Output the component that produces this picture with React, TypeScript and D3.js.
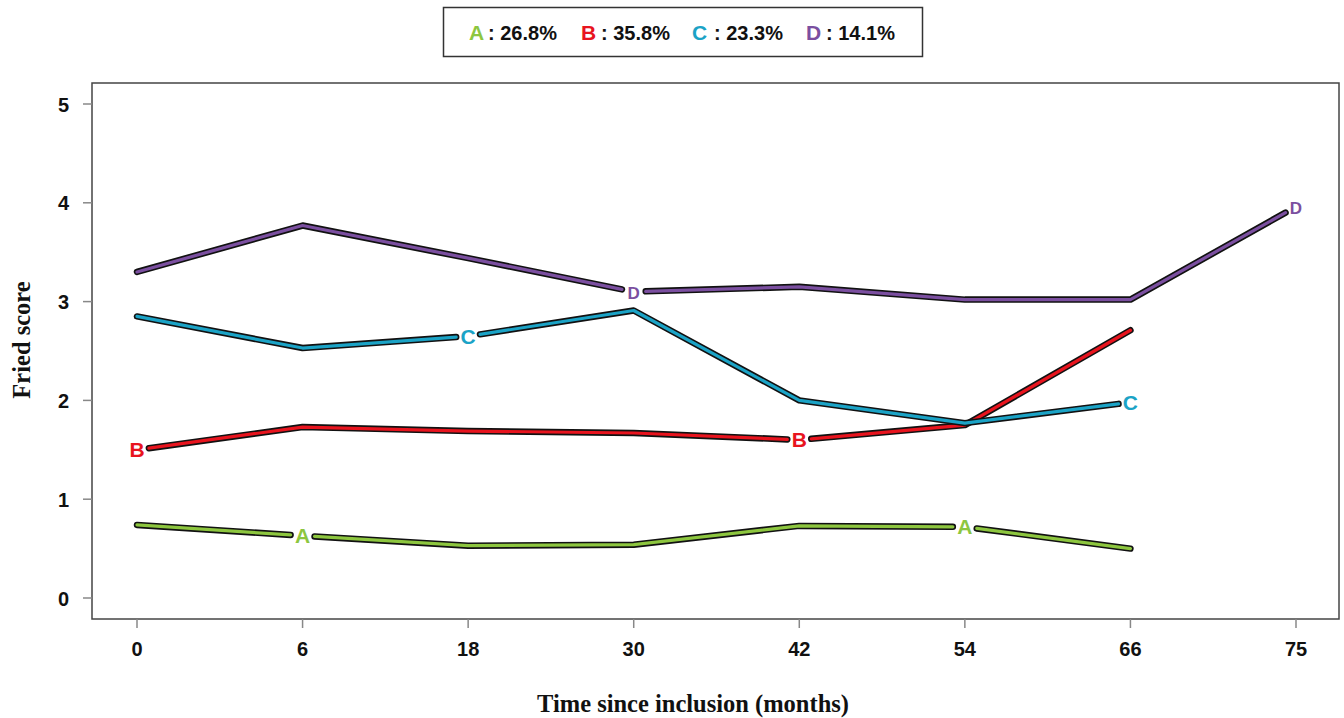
import React from "react";
import * as d3 from "d3";

const months = ["0", "6", "18", "30", "42", "54", "66", "75"];
const yTicks = [0, 1, 2, 3, 4, 5];

const seriesA = [0.74, 0.63, 0.53, 0.54, 0.73, 0.72, 0.5];
const seriesB = [1.5, 1.73, 1.69, 1.67, 1.6, 1.75, 2.71];
const seriesC = [2.85, 2.53, 2.65, 2.91, 2.0, 1.77, 1.98];
const seriesD = [3.3, 3.77, 3.44, 3.1, 3.15, 3.02, 3.02, 3.96];

const seriesNames = ["A", "B", "C", "D"];
const seriesShares = ["26.8%", "35.8%", "23.3%", "14.1%"];
const seriesColors = ["#8DC63F", "#E8141E", "#1BA3C6", "#7B4FA0"];
// indices of points carrying a letter label
const labelIdx = [[1, 5], [0, 4], [2, 6], [3, 7]];

const W = 1344;
const H = 718;
const box = { left: 92, right: 1339, top: 83, bottom: 619 };

export default function App() {
  const x = d3.scalePoint<string>().domain(months).range([137, 1296]).padding(0);
  const y = d3.scaleLinear().domain([0, 5]).range([598, 104]);
  const allSeries = [seriesA, seriesB, seriesC, seriesD];
  const gap = 12;

  const segments = allSeries.map((vals, si) => {
    const pts = vals.map((v, i) => [x(months[i]) as number, y(v)] as [number, number]);
    const segs: [number, number][][] = [];
    for (let i = 0; i < pts.length - 1; i++) {
      let [x0, y0] = pts[i];
      let [x1, y1] = pts[i + 1];
      const dx = x1 - x0, dy = y1 - y0;
      const len = Math.hypot(dx, dy);
      const ux = dx / len, uy = dy / len;
      if (labelIdx[si].includes(i)) { x0 += ux * gap; y0 += uy * gap; }
      if (labelIdx[si].includes(i + 1)) { x1 -= ux * gap; y1 -= uy * gap; }
      segs.push([[x0, y0], [x1, y1]]);
    }
    return { pts, segs };
  });

  const line = d3.line();
  const sans = "'Liberation Sans', Arial, Helvetica, sans-serif";
  const serif = "'Liberation Serif', 'Times New Roman', serif";

  const polylines = segments.map(({ segs }, si) => {
    const out: [number, number][][] = [];
    let cur: [number, number][] = [];
    segs.forEach((s, i) => {
      const startsFresh = labelIdx[si].includes(i);
      if (cur.length === 0 || startsFresh) {
        if (cur.length) out.push(cur);
        cur = [s[0], s[1]];
      } else {
        cur.push(s[1]);
      }
      if (labelIdx[si].includes(i + 1)) {
        out.push(cur);
        cur = [];
      }
    });
    if (cur.length) out.push(cur);
    return out;
  });

  const legendItems = [
    { x: 469, tx: 488 },
    { x: 581, tx: 601 },
    { x: 692, tx: 714 },
    { x: 806, tx: 826 },
  ];

  return (
    <svg width={W} height={H} style={{ position: "absolute", left: 0, top: 0, background: "#fff" }}>
      <rect x={0} y={0} width={W} height={H} fill="#fff" />
      {/* legend */}
      <rect x={443.5} y={7.5} width={479} height={49} fill="#fff" stroke="#333" strokeWidth={1.5} />
      {seriesNames.map((n, i) => (
        <g key={n} fontFamily={sans} fontWeight="bold" fontSize={20}>
          <text x={legendItems[i].x} y={40} fill={seriesColors[i]} fontSize={21}>{n}</text>
          <text x={legendItems[i].tx} y={40} fill="#111">{": " + seriesShares[i]}</text>
        </g>
      ))}
      {/* plot box */}
      <rect x={box.left} y={box.top} width={box.right - box.left} height={box.bottom - box.top} fill="none" stroke="#444" strokeWidth={1.5} />
      {/* y axis ticks */}
      {yTicks.map((t) => (
        <g key={t}>
          <line x1={83} x2={box.left} y1={y(t)} y2={y(t)} stroke="#888" strokeWidth={1.5} />
          <text x={69} y={y(t) + 7.5} textAnchor="end" fontFamily={sans} fontWeight="bold" fontSize={20} fill="#111">{t}</text>
        </g>
      ))}
      {/* x axis ticks */}
      {months.map((m) => (
        <g key={m}>
          <line x1={x(m)} x2={x(m)} y1={box.bottom} y2={box.bottom + 9} stroke="#888" strokeWidth={1.5} />
          <text x={x(m)} y={656} textAnchor="middle" fontFamily={sans} fontWeight="bold" fontSize={20} fill="#111">{m}</text>
        </g>
      ))}
      {/* axis titles */}
      <text x={693} y={712} textAnchor="middle" fontFamily={serif} fontWeight="bold" fontSize={24.5} fill="#111">Time since inclusion (months)</text>
      <text transform="translate(30,340) rotate(-90)" textAnchor="middle" fontFamily={serif} fontWeight="bold" fontSize={24.5} fill="#111">Fried score</text>
      {/* series */}
      {polylines.map((pls, si) => (
        <g key={si}>
          {pls.map((pl, k) => (
            <path key={"o" + k} d={line(pl) as string} fill="none" stroke="#111" strokeWidth={6.5} strokeLinejoin="round" strokeLinecap="round" />
          ))}
          {pls.map((pl, k) => (
            <path key={"i" + k} d={line(pl) as string} fill="none" stroke={seriesColors[si]} strokeWidth={3.2} strokeLinejoin="round" strokeLinecap="round" />
          ))}
        </g>
      ))}
      {segments.map(({ pts }, si) =>
        labelIdx[si].map((i) => (
          <text key={si + "-" + i} x={pts[i][0]} y={pts[i][1] + 7.5} textAnchor="middle" fontFamily={sans} fontWeight="bold" fontSize={si === 3 ? 17 : 21} fill={seriesColors[si]}>
            {seriesNames[si]}
          </text>
        ))
      )}
    </svg>
  );
}
